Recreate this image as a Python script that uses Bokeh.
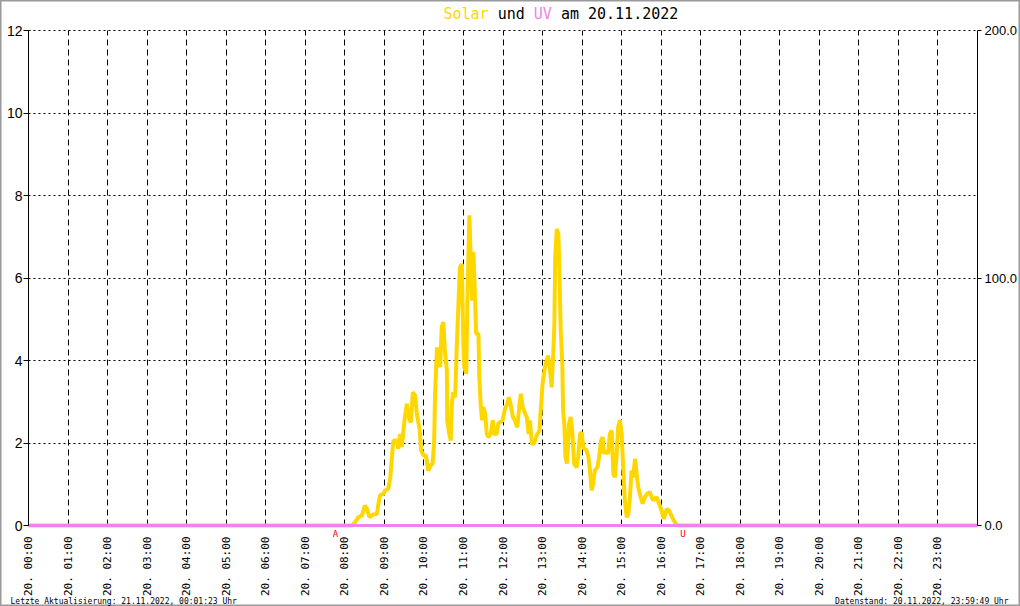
from bokeh.plotting import figure
from bokeh.models import Range1d, LinearAxis, FixedTicker, Label, NumeralTickFormatter
from bokeh.embed import file_html
from bokeh.resources import INLINE
import math

# ---- data ----
solar_hours = [0.0, 8.10, 8.18, 8.26, 8.34, 8.43, 8.51, 8.56, 8.62, 8.72, 8.81, 8.85, 8.89, 8.98,
               9.02, 9.10, 9.15, 9.19, 9.23, 9.31, 9.35, 9.40, 9.44, 9.51, 9.57, 9.61, 9.67,
               9.72, 9.78, 9.82, 9.89, 9.93, 9.99, 10.05, 10.11, 10.17, 10.22, 10.26, 10.28,
               10.33, 10.37, 10.41, 10.45, 10.49, 10.53, 10.58, 10.59, 10.64, 10.68, 10.70,
               10.74, 10.79, 10.83, 10.87, 10.91, 10.96, 10.98, 11.00, 11.02, 11.07, 11.10,
               11.15, 11.18, 11.22, 11.25, 11.29, 11.32, 11.38, 11.40, 11.44, 11.47, 11.50,
               11.55, 11.59, 11.63, 11.69, 11.74, 11.78, 11.84, 11.88, 11.92, 11.99, 12.05,
               12.11, 12.15, 12.19, 12.25, 12.30, 12.36, 12.41, 12.45, 12.50, 12.56, 12.60,
               12.65, 12.68, 12.73, 12.78, 12.85, 12.92, 12.96, 13.00, 13.06, 13.10, 13.14,
               13.19, 13.23, 13.27, 13.30, 13.32, 13.36, 13.40, 13.42, 13.46, 13.50, 13.52,
               13.55, 13.58, 13.62, 13.67, 13.71, 13.75, 13.80, 13.86, 13.90, 13.95, 13.99,
               14.03, 14.07, 14.11, 14.16, 14.20, 14.24, 14.28, 14.32, 14.39, 14.43, 14.48,
               14.52, 14.55, 14.60, 14.66, 14.70, 14.75, 14.79, 14.83, 14.87, 14.91, 14.96,
               15.00, 15.04, 15.08, 15.13, 15.17, 15.21, 15.25, 15.29, 15.34, 15.38, 15.42,
               15.48, 15.53, 15.59, 15.65, 15.71, 15.76, 15.80, 15.88, 15.95, 16.01, 16.07,
               16.14, 16.20, 16.26, 16.32, 16.39, 16.45, 24.0]
solar_values = [0.0, 0.0, 0.0, 0.08, 0.20, 0.24, 0.48, 0.41, 0.20, 0.27, 0.28, 0.53, 0.73, 0.77,
                0.85, 0.89, 1.17, 1.66, 2.06, 2.06, 1.86, 2.22, 1.90, 2.55, 2.95, 2.63, 2.50,
                3.23, 3.15, 2.71, 2.34, 1.82, 1.70, 1.70, 1.33, 1.45, 1.50, 2.06, 3.11,
                4.32, 4.08, 3.84, 4.81, 4.93, 4.24, 3.76, 2.55, 2.22, 2.06, 2.87,
                3.23, 3.11, 4.32, 5.29, 6.26, 6.34, 5.29, 4.40, 3.84, 3.68, 5.45,
                7.52, 6.59, 5.45, 6.63, 5.62, 4.65, 4.65, 3.60, 2.87, 2.55, 2.87,
                2.71, 2.22, 2.14, 2.22, 2.55, 2.22, 2.22, 2.47, 2.50, 2.55, 2.83,
                2.95, 3.11, 2.95, 2.63, 2.55, 2.38, 2.87, 3.19, 2.87, 2.71, 2.63,
                2.22, 2.55, 1.98, 1.98, 2.18, 2.30, 2.87, 3.43, 3.84, 4.00, 4.12,
                3.76, 3.35, 4.16, 4.89, 6.50, 7.19, 7.07, 6.42, 4.73, 3.92, 2.79,
                2.47, 1.66, 1.50, 2.47, 2.63, 2.30, 1.50, 1.41, 1.66, 2.22, 2.26,
                1.90, 1.86, 1.82, 1.66, 1.33, 0.85, 1.01, 1.33, 1.41, 1.66, 2.06,
                2.14, 1.74, 1.82, 1.74, 2.22, 2.30, 1.25, 1.17, 1.66, 2.38, 2.55,
                2.22, 1.41, 0.61, 0.20, 0.28, 0.69, 1.33, 1.17, 1.62, 1.25, 0.93,
                0.69, 0.53, 0.69, 0.77, 0.81, 0.69, 0.61, 0.69, 0.53, 0.36, 0.16,
                0.40, 0.36, 0.24, 0.12, 0.02, 0.0, 0.0]
uv_hours = [0.0, 24.0]
uv_values = [0.0, 0.0]

hour_ticks = list(range(24))
hour_labels = ["20. %02d:00" % h for h in hour_ticks]
left_ticks = [0, 2, 4, 6, 8, 10, 12]
right_ticks = [0, 100, 200]
sunrise_hour = 7.76
sunset_hour = 16.55
title_parts = [("Solar", "#FFD700", 0), ("und", "#000000", 6), ("UV", "#EE82EE", 10),
               ("am 20.11.2022", "#000000", 13)]
footer_left = "Letzte Aktualisierung: 21.11.2022, 00:01:23 Uhr"
footer_right = "Datenstand: 20.11.2022, 23:59:49 Uhr"

SOLAR = "#FFD700"
UV = "#EE82EE"
MONO = "DejaVu Sans Mono"

# canvas geometry (pixels) -> ranges so that the drawing area spans the whole canvas
W, H = 1020, 606
X0, X1 = 28, 977      # pixel columns of 00:00 and 24:00
Y12, Y0 = 30, 525     # pixel rows of value 12 and value 0
pxh = (X1 - X0) / 24.0
pxv = (Y0 - Y12) / 12.0
x_start, x_end = -X0 / pxh, 24 + (W - X1) / pxh
y_start, y_end = -(H - Y0) / pxv, 12 + Y12 / pxv
uv_scale = 200 / 12.0

p = figure(width=W, height=H, output_backend="svg", toolbar_location=None,
           x_range=Range1d(x_start, x_end), y_range=Range1d(y_start, y_end),
           min_border=0, min_border_left=0, min_border_right=0,
           min_border_top=0, min_border_bottom=0)
p.outline_line_color = "#9a9a9a"
p.outline_line_width = 2
p.background_fill_color = "white"
p.border_fill_color = "white"
p.extra_y_ranges = {"uv": Range1d(y_start * uv_scale, y_end * uv_scale)}

# grids
p.xgrid.ticker = FixedTicker(ticks=hour_ticks)
p.xgrid.grid_line_color = "black"
p.xgrid.grid_line_dash = "6 4"
p.xgrid.grid_line_width = 1
p.xgrid.cross_bounds = (0, 12)
p.ygrid.ticker = FixedTicker(ticks=left_ticks)
p.ygrid.grid_line_color = "black"
p.ygrid.grid_line_dash = "2 3"
p.ygrid.grid_line_width = 1
p.ygrid.cross_bounds = (0, 24)

# x axis (fixed at value 0)
xa = p.xaxis[0]
xa.fixed_location = 0
xa.bounds = (0, 24)
xa.ticker = FixedTicker(ticks=hour_ticks)
xa.major_label_overrides = {h: lab for h, lab in zip(hour_ticks, hour_labels)}
xa.major_label_orientation = math.pi / 2
xa.axis_line_color = None
xa.major_tick_line_color = None
xa.minor_tick_line_color = None
xa.major_label_standoff = 5
xa.major_label_text_font = MONO
xa.major_label_text_font_size = "11px"
xa.major_label_text_color = "black"

# left axis (fixed at 00:00)
ya = p.yaxis[0]
ya.fixed_location = 0
ya.bounds = (0, 12)
ya.ticker = FixedTicker(ticks=left_ticks)
ya.axis_line_color = "black"
ya.axis_line_width = 1
ya.major_tick_out = 5
ya.major_tick_in = 0
ya.minor_tick_line_color = None
ya.major_label_standoff = 1
ya.major_label_text_font = "Liberation Sans"
ya.major_label_text_font_size = "14px"
ya.major_label_text_color = "black"

# right axis (UV scale, fixed at 24:00)
ra = LinearAxis(y_range_name="uv", ticker=FixedTicker(ticks=right_ticks),
                formatter=NumeralTickFormatter(format="0.0"), fixed_location=24,
                bounds=(0, 200))
ra.axis_line_color = "black"
ra.major_tick_out = 4
ra.major_tick_in = 0
ra.minor_tick_line_color = None
ra.major_label_standoff = 3
ra.major_label_text_font = "Liberation Sans"
ra.major_label_text_font_size = "13px"
ra.major_label_text_color = "black"
p.add_layout(ra, "right")

# lines
p.line(solar_hours, solar_values, line_color=SOLAR, line_width=4)
p.line(uv_hours, uv_values, line_color=UV, line_width=3)

# sunrise / sunset markers
for hx, txt in [(sunrise_hour, "A"), (sunset_hour, "U")]:
    p.add_layout(Label(x=hx, y=0, y_offset=-3, text=txt, text_color="red",
                       text_font=MONO, text_font_size="9px",
                       text_align="center", text_baseline="top"))

# title (multi-coloured, monospace)
title_font_px = 15
char_w = title_font_px * 0.602 / pxh  # width of one monospace char in hours
title_start = (443 - X0) / pxh
title_y = 12 + (Y12 - 13) / pxv
for txt, col, off in title_parts:
    p.add_layout(Label(x=title_start + off * char_w, y=title_y, text=txt, text_color=col,
                       text_font=MONO, text_font_size="%dpx" % title_font_px,
                       text_align="left", text_baseline="middle"))

# footer
foot_y = -(601 - Y0) / pxv
p.add_layout(Label(x=(10 - X0) / pxh, y=foot_y, text=footer_left, text_color="black",
                   text_font=MONO, text_font_size="8px",
                   text_align="left", text_baseline="alphabetic"))
p.add_layout(Label(x=24 + (1008 - X1) / pxh, y=foot_y, text=footer_right, text_color="black",
                   text_font=MONO, text_font_size="8px",
                   text_align="right", text_baseline="alphabetic"))

open("out.html", "w").write(file_html(p, INLINE))
